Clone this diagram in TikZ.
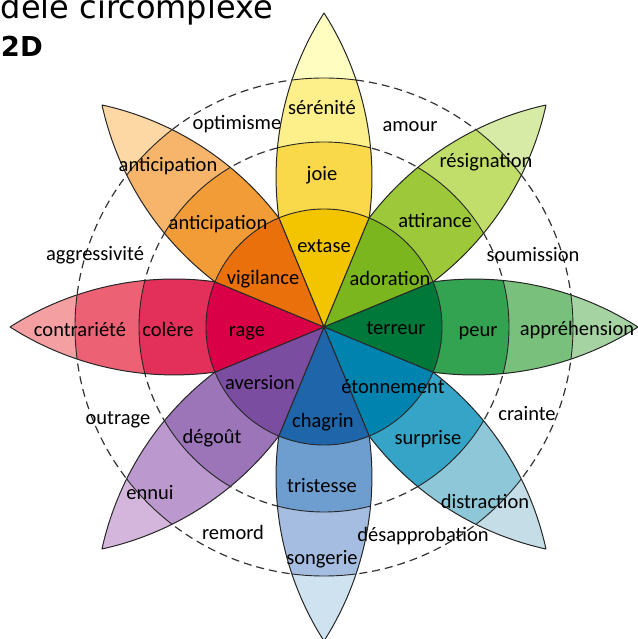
\documentclass[tikz,border=0pt]{standalone}
\usepackage{fontspec}
\setmainfont{Carlito}
\newfontfamily\titlefont{DejaVu Sans}
% yellow (joie)
\definecolor{ya}{HTML}{F2C500}\definecolor{yb}{HTML}{F9D949}\definecolor{yc}{HTML}{FDF08A}\definecolor{yd}{HTML}{FFFDBF}
% light green (confiance)
\definecolor{la}{HTML}{7BB61F}\definecolor{lb}{HTML}{9CC83A}\definecolor{lc}{HTML}{C2DE6A}\definecolor{ld}{HTML}{D7EBA6}
% green (peur)
\definecolor{ga}{HTML}{00783A}\definecolor{gb}{HTML}{33A352}\definecolor{gc}{HTML}{78C07B}\definecolor{gd}{HTML}{A5D4A2}
% teal (surprise)
\definecolor{ta}{HTML}{0083AE}\definecolor{tb}{HTML}{36A4C6}\definecolor{tc}{HTML}{8DC7D8}\definecolor{td}{HTML}{C4DDE6}
% blue (tristesse)
\definecolor{ba}{HTML}{1E65AA}\definecolor{bb}{HTML}{6E9ECF}\definecolor{bc}{HTML}{A5BDE0}\definecolor{bd}{HTML}{CFE2F0}
% purple (degout)
\definecolor{pa}{HTML}{7B4DA0}\definecolor{pb}{HTML}{9B75B8}\definecolor{pc}{HTML}{BB99CF}\definecolor{pd}{HTML}{D4B6DD}
% red (colere)
\definecolor{ra}{HTML}{DA0048}\definecolor{rb}{HTML}{E3305A}\definecolor{rc}{HTML}{EC6274}\definecolor{rd}{HTML}{F4A0A3}
% orange (anticipation)
\definecolor{oa}{HTML}{E9700A}\definecolor{ob}{HTML}{F29C38}\definecolor{oc}{HTML}{F7B56C}\definecolor{od}{HTML}{FDD7A4}
\newcommand\petalpath{(0,0) -- (22.5:118pt) arc[start angle=97.73, end angle=57.41, radius=304.5pt] arc[start angle=-57.41, end angle=-97.73, radius=304.5pt] -- cycle}
\begin{document}
\begin{tikzpicture}[x=1pt,y=1pt,
  lab/.style={font=\fontsize{20.5}{24}\selectfont, inner sep=0pt, text height=14.6pt, text depth=0pt, text=black},
  ring/.style={line width=0.9pt, draw=black!85},
  outline/.style={line width=1pt, draw=black!85},
  guide/.style={line width=1.2pt, draw=black!80, dash pattern=on 8pt off 5pt}]
\useasboundingbox (-324,-312) rectangle (313,327);
\draw[guide] (0,0) circle[radius=185pt];
\draw[guide] (0,0) circle[radius=249pt];
\foreach \ang/\ca/\cb/\cc/\cd in {90/ya/yb/yc/yd, 45/la/lb/lc/ld, 0/ga/gb/gc/gd, -45/ta/tb/tc/td, -90/ba/bb/bc/bd, -135/pa/pb/pc/pd, 180/ra/rb/rc/rd, 135/oa/ob/oc/od}{
  \begin{scope}[rotate=\ang]
    \begin{scope}
      \clip \petalpath;
      \fill[\cd] (0,0) circle[radius=330pt];
      \fill[\cc] (0,0) circle[radius=249pt];
      \fill[\cb] (0,0) circle[radius=185pt];
      \fill[\ca] (0,0) circle[radius=118pt];
      \draw[ring] (0,0) circle[radius=118pt];
      \draw[ring] (0,0) circle[radius=185pt];
      \draw[ring] (0,0) circle[radius=249pt];
    \end{scope}
    \draw[outline, line join=round] \petalpath;
  \end{scope}
}
% labels
\node[lab] (serenite) at (-2,220) {sérénité};
\node[lab] (joie) at (-2,154) {joie};
\node[lab] (extase) at (0,82) {extase};
\node[lab] (optimisme) at (-87,205) {optimisme};
\node[lab] (amour) at (86,203) {amour};
\node[lab] (anticipA) at (-156,163) {anticipation};
\node[lab] (anticipB) at (-106,105) {anticipation};
\node[lab] (vigilance) at (-61,50) {vigilance};
\node[lab] (resignation) at (162,167) {résignation};
\node[lab] (attirance) at (111,107) {attirance};
\node[lab] (adoration) at (66,49) {adoration};
\node[lab] (aggressivite) at (-229,74) {aggressivité};
\node[lab] (soumission) at (209,73) {soumission};
\node[lab] (contrariete) at (-244,-2) {contrariété};
\node[lab] (colere) at (-156,-2) {colère};
\node[lab] (rage) at (-77,-2) {rage};
\node[lab] (terreur) at (72,0) {terreur};
\node[lab] (peur) at (154,-2) {peur};
\node[lab] (apprehension) at (253,-1) {appréhension};
\node[lab] (aversion) at (-64,-55) {aversion};
\node[lab] (etonnement) at (69,-59) {étonnement};
\node[lab] (outrage) at (-206,-90) {outrage};
\node[lab] (crainte) at (203,-86) {crainte};
\node[lab] (degout) at (-112,-109) {dégoût};
\node[lab] (chagrin) at (-1,-93) {chagrin};
\node[lab] (surprise) at (104,-110) {surprise};
\node[lab] (tristesse) at (-2,-158) {tristesse};
\node[lab] (ennui) at (-174,-165) {ennui};
\node[lab] (distraction) at (161,-174) {distraction};
\node[lab] (remord) at (-91,-205) {remord};
\node[lab] (desapprobation) at (99,-207) {désapprobation};
\node[lab] (songerie) at (-2,-230) {songerie};
% title (cut by the frame, as in the reference)
\node[anchor=base east, inner sep=0pt] (title) at (-51,308) {\titlefont\fontsize{32}{38}\selectfont dèle circomplexe};
\node[anchor=base east, inner sep=0pt] (twod) at (-281,270) {\titlefont\bfseries\fontsize{27.4}{32}\selectfont 2D};
\end{tikzpicture}
\end{document}
